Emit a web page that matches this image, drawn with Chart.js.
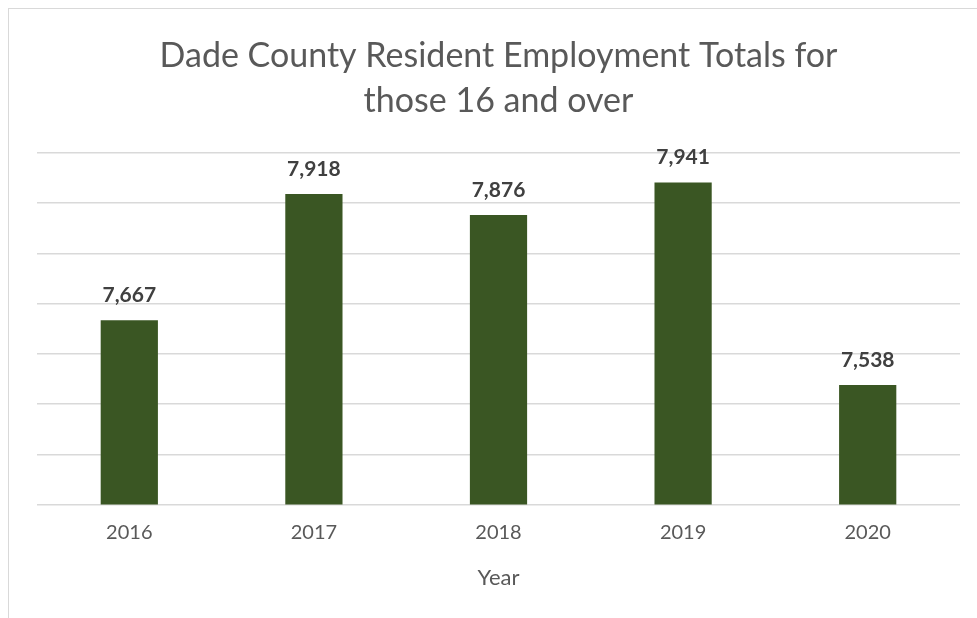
<!DOCTYPE html>
<html>
<head>
<meta charset="utf-8">
<script src="https://cdn.jsdelivr.net/npm/chart.js@4"></script>
<style>
  html, body { margin:0; padding:0; background:#fff; overflow:hidden; }
  #wrap { position:relative; width:977px; height:618px; }
  #frame { position:absolute; left:8px; top:8px; width:1200px; height:1000px; border:1px solid #d9d9d9; box-sizing:border-box; }
  #chart { position:absolute; left:0; top:0; }
</style>
</head>
<body>
<div id="wrap">
  <div id="frame"></div>
  <canvas id="chart" width="977" height="618"></canvas>
</div>
<script>
const years = ['2016', '2017', '2018', '2019', '2020'];
const employed = [7667, 7918, 7876, 7941, 7538];
const titleLines = ['Dade County Resident Employment Totals for', 'those 16 and over'];

const FONT = "Lato, 'Open Sans', sans-serif";

// draws the value above each bar
const valueLabels = {
    id: 'valueLabels',
    afterDatasetsDraw(chart) {
        const ctx = chart.ctx;
        const meta = chart.getDatasetMeta(0);
        ctx.save();
        ctx.font = 'bold 21px ' + FONT;
        ctx.fillStyle = '#404040';
        ctx.textAlign = 'center';
        ctx.textBaseline = 'alphabetic';
        meta.data.forEach((bar, i) => {
            ctx.fillText(employed[i].toLocaleString('en-US'), bar.x, bar.y - 18);
        });
        ctx.restore();
    }
};

new Chart(document.getElementById('chart'), {
    type: 'bar',
    data: {
        labels: years,
        datasets: [{
            label: 'Employed',
            data: employed,
            backgroundColor: '#3a5623',
            barPercentage: 0.31,
            categoryPercentage: 1
        }]
    },
    options: {
        responsive: false,
        animation: false,
        layout: { padding: { left: 37, right: 17, top: 34, bottom: 27 } },
        plugins: {
            legend: { display: false },
            tooltip: { enabled: false },
            title: {
                display: true,
                text: titleLines,
                color: '#595959',
                font: { family: FONT, size: 34, weight: 'normal', lineHeight: 1.32 },
                padding: { top: 0, bottom: 29 }
            }
        },
        scales: {
            x: {
                grid: { display: false, drawTicks: false },
                border: { display: false },
                ticks: { color: '#595959', font: { family: FONT, size: 20 }, padding: 16 },
                title: { display: true, text: 'Year', color: '#595959', font: { family: FONT, size: 22 }, padding: { top: 4, bottom: 0 } }
            },
            y: {
                min: 7300,
                max: 8000,
                border: { display: false },
                grid: { color: '#d9d9d9', lineWidth: 1.5, drawTicks: false },
                ticks: { display: false, stepSize: 100 }
            }
        }
    },
    plugins: [valueLabels]
});
</script>
</body>
</html>
